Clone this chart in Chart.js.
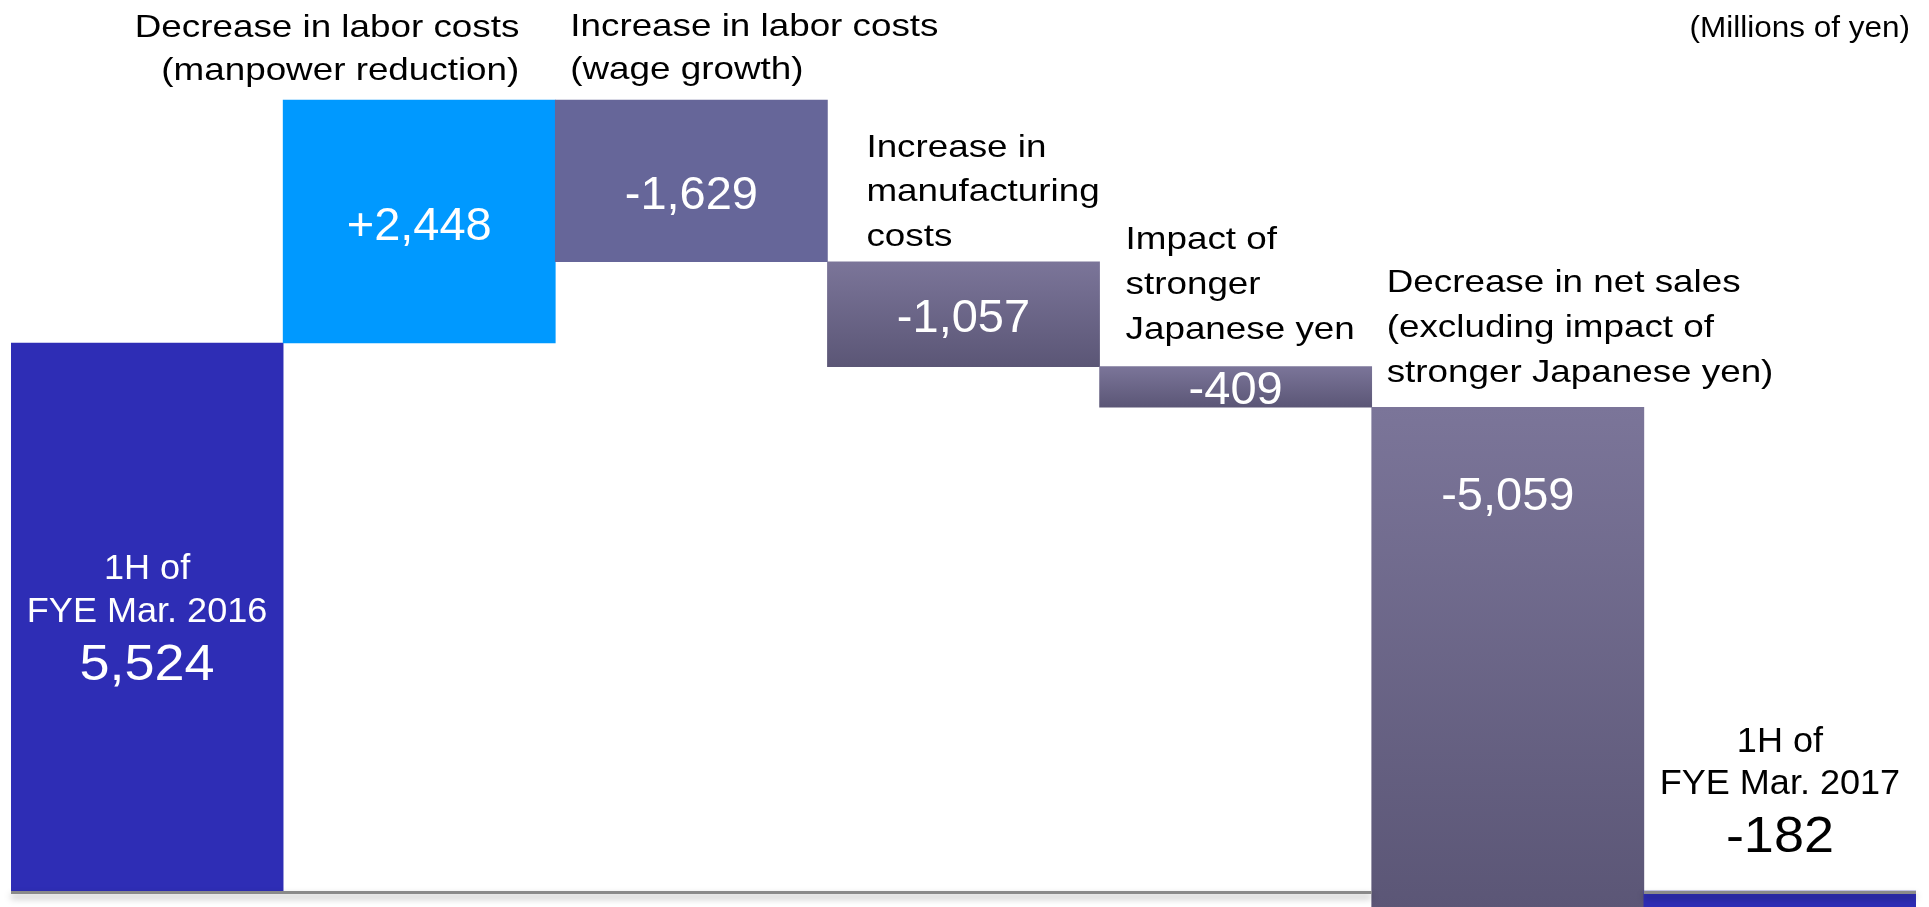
<!DOCTYPE html>
<html>
<head>
<meta charset="utf-8">
<title>Operating income bridge</title>
<script src="https://cdn.jsdelivr.net/npm/chart.js@4.4.1/dist/chart.umd.min.js"></script>
<style>
    html, body { margin: 0; padding: 0; background: #fff; }
    #wrap { width: 1929px; height: 907px; position: relative; }
</style>
</head>
<body>
<div id="wrap"><canvas id="chart"></canvas></div>
<script>
/* ================= DATA ================= */
const categories = [
    "1H of FYE Mar. 2016",
    "Decrease in labor costs (manpower reduction)",
    "Increase in labor costs (wage growth)",
    "Increase in manufacturing costs",
    "Impact of stronger Japanese yen",
    "Decrease in net sales (excluding impact of stronger Japanese yen)",
    "1H of FYE Mar. 2017"
];
const startTotal = 5524;
const changes = [2448, -1629, -1057, -409, -5059];
const endTotal = -182;

const labelLines = [
    ["1H of", "FYE Mar. 2016"],
    ["Decrease in labor costs", "(manpower reduction)"],
    ["Increase in labor costs", "(wage growth)"],
    ["Increase in", "manufacturing", "costs"],
    ["Impact of", "stronger", "Japanese yen"],
    ["Decrease in net sales", "(excluding impact of", "stronger Japanese yen)"],
    ["1H of", "FYE Mar. 2017"]
];
const unitLabel = "(Millions of yen)";

/* floating bar ranges built from the values */
const ranges = [[0, startTotal]];
let running = startTotal;
changes.forEach(c => {
    ranges.push([running, running + c]);
    running += c;
});
ranges.push([0, endTotal]);

const fmt = v => v.toLocaleString("en-US");
const valueText = [fmt(startTotal)]
    .concat(changes.map(c => (c > 0 ? "+" : "") + fmt(c)))
    .concat([fmt(endTotal)]);

/* ================= STYLE ================= */
const FONT = "'Liberation Sans', Arial, sans-serif";
const TOTAL_BLUE = "#2e2db5";
const GAIN_BLUE = "#0099ff";
const FLAT_PURPLE = "#666699";

// where the category captions sit, relative to their bar
const captionLayout = [
    null,
    { align: "right", dx: -36, dy: -20, lh: 43 },
    { align: "left", dx: 15, dy: -21, lh: 43 },
    { align: "left", dx: 39, dy: -16, lh: 44.5 },
    { align: "left", dx: 26, dy: -28, lh: 45 },
    { align: "left", dx: 15, dy: -25, lh: 45 },
    null
];
// value label centre offsets (from bar centre, or from bar top)
const valueOffset = [null, 1, 11, 1, 0, { fromTop: 86 }, null];

function barColor(ctx) {
    const i = ctx.dataIndex;
    if (i === 0 || i === 6) return TOTAL_BLUE;
    if (i === 1) return GAIN_BLUE;
    if (i === 2) return FLAT_PURPLE;
    const chart = ctx.chart;
    const y = chart.scales.y;
    if (!chart.chartArea || !y) return "#6e6990";
    const r = ranges[i];
    const top = y.getPixelForValue(Math.max(r[0], r[1]));
    const bot = y.getPixelForValue(Math.min(r[0], r[1]));
    const g = chart.ctx.createLinearGradient(0, top, 0, bot);
    g.addColorStop(0, "#7b7599");
    g.addColorStop(1, "#5b5676");
    return g;
}

function drawText(c, text, x, y, size, align, color, sx) {
    c.save();
    c.font = size + "px " + FONT;
    c.fillStyle = color;
    c.textAlign = align;
    c.textBaseline = "alphabetic";
    c.translate(x, y);
    c.scale(sx || 1, 1);
    c.fillText(text, 0, 0);
    c.restore();
}

/* ================= OVERLAY PLUGIN ================= */
const overlay = {
    id: "overlay",
    afterDatasetsDraw(chart) {
        const c = chart.ctx;
        const area = chart.chartArea;
        const bars = chart.getDatasetMeta(0).data;
        const y0 = chart.scales.y.getPixelForValue(0);

        // zero line, broken where the big drop bar crosses it
        const drop = bars[5];
        c.save();
        c.strokeStyle = "#8a8a8a";
        c.lineWidth = 3;
        c.shadowColor = "rgba(0,0,0,0.35)";
        c.shadowBlur = 7;
        c.shadowOffsetY = 4;
        c.beginPath();
        c.moveTo(area.left, y0 + 1.5);
        c.lineTo(drop.x - drop.width / 2, y0 + 1.5);
        c.moveTo(drop.x + drop.width / 2, y0 + 1.5);
        c.lineTo(area.right, y0 + 1.5);
        c.stroke();
        c.restore();

        // totals
        const first = bars[0];
        const cy = (first.y + first.base) / 2;
        drawText(c, labelLines[0][0], first.x, cy - 38, 35, "center", "#fff", 1.03);
        drawText(c, labelLines[0][1], first.x, cy + 5, 35, "center", "#fff", 1.03);
        drawText(c, valueText[0], first.x, cy + 63, 50, "center", "#fff", 1.08);

        const last = bars[6];
        const top = Math.min(last.y, last.base);
        drawText(c, labelLines[6][0], last.x, top - 139, 35, "center", "#000", 1.03);
        drawText(c, labelLines[6][1], last.x, top - 97, 35, "center", "#000", 1.03);
        drawText(c, valueText[6], last.x, top - 39, 50, "center", "#000", 1.08);

        // change bars: values and captions
        for (let i = 1; i <= 5; i++) {
            const b = bars[i];
            const bTop = Math.min(b.y, b.base);
            const bBot = Math.max(b.y, b.base);
            const off = valueOffset[i];
            const mid = typeof off === "object" ? bTop + off.fromTop : (bTop + bBot) / 2 + off;
            drawText(c, valueText[i], b.x, mid + 17, 47, "center", "#fff", 1);

            const lay = captionLayout[i];
            const left = b.x - b.width / 2;
            const right = b.x + b.width / 2;
            const x = lay.align === "right" ? right + lay.dx : left + lay.dx;
            const lines = labelLines[i];
            lines.forEach((t, k) => {
                const yy = bTop + lay.dy - (lines.length - 1 - k) * lay.lh;
                drawText(c, t, x, yy, 32, lay.align, "#000", 1.15);
            });
        }

        drawText(c, unitLabel, area.right - 6, 37, 30, "right", "#000", 1.05);
    }
};

/* ================= CHART ================= */
new Chart(document.getElementById("chart"), {
    type: "bar",
    data: {
        labels: categories,
        datasets: [{
            data: ranges,
            backgroundColor: barColor,
            borderWidth: 0,
            barPercentage: 1,
            categoryPercentage: 1
        }]
    },
    options: {
        responsive: true,
        maintainAspectRatio: false,
        animation: false,
        layout: { padding: { left: 11, right: 13, top: 0, bottom: 0 } },
        plugins: {
            legend: { display: false },
            tooltip: { enabled: false }
        },
        scales: {
            x: { display: false },
            y: { display: false, min: -161, max: 8982 }
        }
    },
    plugins: [overlay]
});
</script>
</body>
</html>
